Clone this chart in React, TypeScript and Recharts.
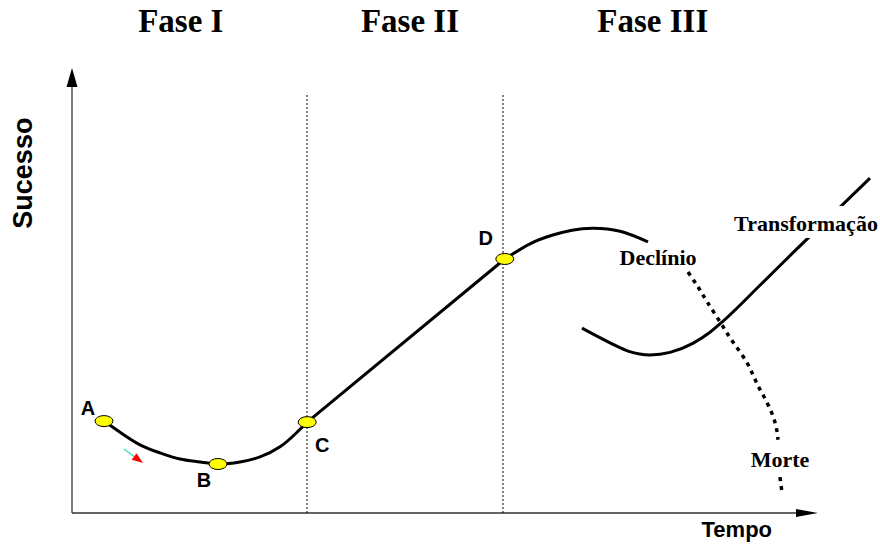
import React from 'react';
import { ComposedChart, Line, Scatter, XAxis, YAxis, ReferenceLine } from 'recharts';

// Tempo (x) and Sucesso (y), origin at the corner of the two arrows
const phaseOneCurve = [
  { x: 4.0, y: 18.2 },
  { x: 6.0, y: 16.0 },
  { x: 8.5, y: 13.5 },
  { x: 11.0, y: 11.9 },
  { x: 13.5, y: 10.7 },
  { x: 16.0, y: 10.1 },
  { x: 18.25, y: 9.7 },
  { x: 21.0, y: 10.1 },
  { x: 23.5, y: 11.1 },
  { x: 26.0, y: 13.1 },
  { x: 28.0, y: 15.8 },
  { x: 29.4, y: 18.0 }
];

const growthLine = [
  { x: 29.4, y: 18.0 },
  { x: 54.1, y: 50.3 }
];

const peakCurve = [
  { x: 54.1, y: 50.3 },
  { x: 57.25, y: 53.3 },
  { x: 60.0, y: 55.0 },
  { x: 62.5, y: 56.0 },
  { x: 65.1, y: 56.4 },
  { x: 68.5, y: 55.8 },
  { x: 72.0, y: 53.7 }
];

const declineCurve = [
  { x: 77.0, y: 47.7 },
  { x: 78.25, y: 44.75 },
  { x: 79.4, y: 41.8 },
  { x: 81.1, y: 37.6 },
  { x: 82.6, y: 33.9 },
  { x: 84.4, y: 29.7 },
  { x: 85.6, y: 25.7 },
  { x: 86.9, y: 21.8 },
  { x: 87.9, y: 17.8 },
  { x: 88.25, y: 14.5 }
];

const deathTail = [
  { x: 88.5, y: 7.1 },
  { x: 88.75, y: 4.0 }
];

const transformCurve = [
  { x: 63.75, y: 36.6 },
  { x: 67.25, y: 33.7 },
  { x: 69.6, y: 32.0 },
  { x: 72.25, y: 31.3 },
  { x: 74.75, y: 31.8 },
  { x: 77.6, y: 33.6 },
  { x: 79.75, y: 35.8 },
  { x: 81.25, y: 37.8 },
  { x: 86.0, y: 45.1 },
  { x: 90.1, y: 51.5 },
  { x: 99.75, y: 66.3 }
];

const milestones = [
  { x: 4.0, y: 18.2, name: 'A' },
  { x: 18.25, y: 9.7, name: 'B' },
  { x: 29.4, y: 18.0, name: 'C' },
  { x: 54.1, y: 50.3, name: 'D' }
];

const phaseBounds = [29.375, 53.875];
const phaseBoundTop = 83.2;

const phaseTitles = [
  { x: 13.6, y: 95.25, text: 'Fase I' },
  { x: 42.25, y: 95.25, text: 'Fase II' },
  { x: 72.6, y: 95.25, text: 'Fase III' }
];

const curveLabels = [
  { x: 73.25, y: 49.1, text: 'Declínio' },
  { x: 91.75, y: 55.85, text: 'Transformação' },
  { x: 88.5, y: 9.1, text: 'Morte' }
];

const axisTitles = [
  { x: 83.1, y: -4.75, text: 'Tempo', angle: 0 },
  { x: -6.1, y: 67.3, text: 'Sucesso', angle: -90 }
];

const xAxisEnd = 93.25;
const yAxisEnd = 88.1;
const nudgeArrow = [
  { x: 6.5, y: 12.67 },
  { x: 8.875, y: 9.9 }
];

const SERIF = '"Liberation Serif", "Times New Roman", serif';
const SANS = '"Liberation Sans", Arial, sans-serif';

// letter offsets (px) from the yellow marker
const letterOffset: Record<string, [number, number]> = {
  A: [-16, -6],
  B: [-14, 23],
  C: [15, 30],
  D: [-19, -14]
};

const boxedLabels = ['Transformação'];

const arrowShape = (color: string, headColor: string, len: number, half: number, width: number) =>
  (props: any) => {
    const { x1, y1, x2, y2 } = props;
    const ang = Math.atan2(y2 - y1, x2 - x1);
    const bx = x2 - len * Math.cos(ang);
    const by = y2 - len * Math.sin(ang);
    const px = -Math.sin(ang) * half;
    const py = Math.cos(ang) * half;
    return (
      <g>
        <line x1={x1} y1={y1} x2={bx} y2={by} stroke={color} strokeWidth={width} />
        <polygon
          points={`${x2},${y2} ${bx + px},${by + py} ${bx - px},${by - py}`}
          fill={headColor}
        />
      </g>
    );
  };

const Milestone = (props: any) => {
  const { cx, cy, payload } = props;
  const [dx, dy] = letterOffset[payload.name];
  return (
    <g>
      <ellipse cx={cx} cy={cy} rx={9} ry={5.5} fill="#ffff00" stroke="#000" strokeWidth={1} />
      <text
        x={cx + dx}
        y={cy + dy}
        textAnchor="middle"
        fontFamily={SANS}
        fontWeight="bold"
        fontSize={20}
        fill="#000"
      >
        {payload.name}
      </text>
    </g>
  );
};

const PhaseTitle = (props: any) => (
  <text
    x={props.cx}
    y={props.cy}
    textAnchor="middle"
    fontFamily={SERIF}
    fontWeight="bold"
    fontSize={33}
    fill="#000"
  >
    {props.payload.text}
  </text>
);

const CurveLabel = (props: any) => {
  const { cx, cy, payload } = props;
  const boxed = boxedLabels.includes(payload.text);
  return (
    <g>
      {boxed && <rect x={cx - 76} y={cy - 25} width={152} height={32} fill="#fff" />}
      <text
        x={cx}
        y={cy}
        textAnchor="middle"
        fontFamily={SERIF}
        fontWeight="bold"
        fontSize={22}
        fill="#000"
      >
        {payload.text}
      </text>
    </g>
  );
};

const AxisTitle = (props: any) => {
  const { cx, cy, payload } = props;
  return (
    <text
      x={cx}
      y={cy}
      textAnchor="middle"
      dominantBaseline={payload.angle ? 'central' : 'auto'}
      transform={payload.angle ? `rotate(${payload.angle} ${cx} ${cy})` : undefined}
      fontFamily={SANS}
      fontWeight="bold"
      fontSize={payload.angle ? 27 : 22}
      fill="#000"
    >
      {payload.text}
    </text>
  );
};

export default function App() {
  return (
    <div style={{ position: 'absolute', left: 0, top: 0, background: '#fff' }}>
      <ComposedChart width={880} height={546} margin={{ top: 0, right: 0, bottom: 0, left: 0 }}>
        <XAxis type="number" dataKey="x" domain={[-9, 101]} hide />
        <YAxis type="number" dataKey="y" domain={[-6.535, 101.584]} hide />

        <ReferenceLine
          segment={[{ x: 0, y: 0 }, { x: 0, y: yAxisEnd }]}
          shape={arrowShape('#555', '#000', 19, 5.5, 1.5)}
        />
        <ReferenceLine
          segment={[{ x: 0, y: 0 }, { x: xAxisEnd, y: 0 }]}
          shape={arrowShape('#333', '#000', 22, 4, 1.5)}
        />

        <Line data={phaseOneCurve} dataKey="y" type="natural" stroke="#000" strokeWidth={3} dot={false} isAnimationActive={false} />
        <Line data={growthLine} dataKey="y" type="linear" stroke="#000" strokeWidth={3} dot={false} isAnimationActive={false} />
        <Line data={peakCurve} dataKey="y" type="natural" stroke="#000" strokeWidth={3} dot={false} isAnimationActive={false} />
        <Line data={transformCurve} dataKey="y" type="monotone" stroke="#000" strokeWidth={3} dot={false} isAnimationActive={false} />
        <Line data={declineCurve} dataKey="y" type="natural" stroke="#000" strokeWidth={3.5} strokeDasharray="4 5" dot={false} isAnimationActive={false} />
        <Line data={deathTail} dataKey="y" type="linear" stroke="#000" strokeWidth={3.5} strokeDasharray="4 5" dot={false} isAnimationActive={false} />

        <ReferenceLine
          segment={nudgeArrow}
          shape={arrowShape('#40e0c0', '#ff0000', 11, 4, 1.5)}
        />

        <Scatter data={milestones} dataKey="y" shape={Milestone} isAnimationActive={false} />

        {phaseBounds.map((b) => (
          <ReferenceLine
            key={b}
            segment={[{ x: b, y: 0 }, { x: b, y: phaseBoundTop }]}
            stroke="#000"
            strokeWidth={1}
            strokeDasharray="2 2"
          />
        ))}

        <Scatter data={phaseTitles} dataKey="y" shape={PhaseTitle} isAnimationActive={false} />
        <Scatter data={curveLabels} dataKey="y" shape={CurveLabel} isAnimationActive={false} />
        <Scatter data={axisTitles} dataKey="y" shape={AxisTitle} isAnimationActive={false} />
      </ComposedChart>
    </div>
  );
}
